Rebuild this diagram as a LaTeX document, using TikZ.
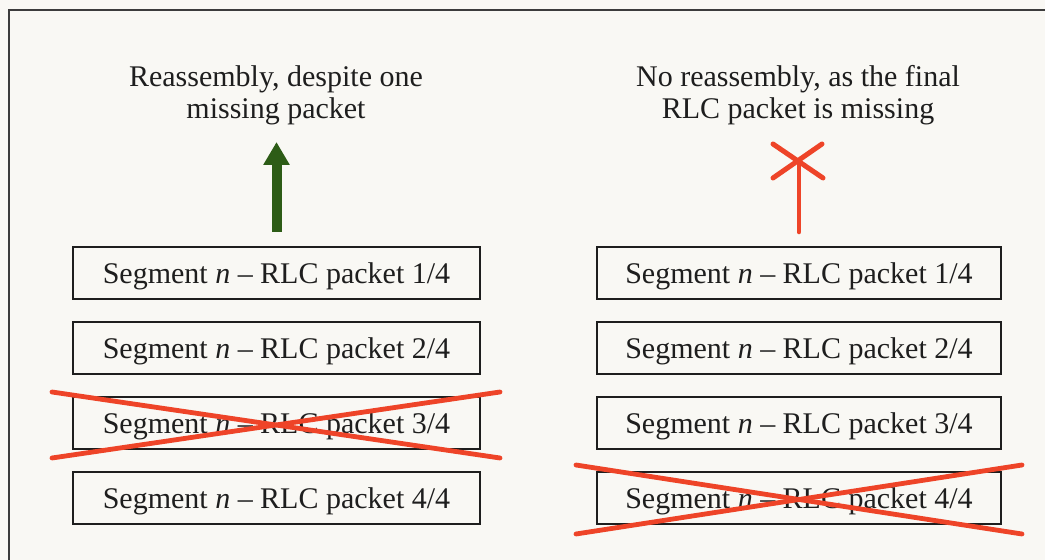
\documentclass[tikz,border=0pt]{standalone}
\usepackage{fontspec}
\setmainfont{Liberation Serif}
\usetikzlibrary{arrows.meta,calc}
\definecolor{bg}{RGB}{249,248,244}
\definecolor{ink}{RGB}{30,30,30}
\definecolor{frame}{RGB}{60,60,60}
\definecolor{lossred}{RGB}{238,68,40}
\definecolor{okgreen}{RGB}{45,92,22}
\tikzset{
  pkt/.style={draw=ink, line width=1pt, fill=bg, inner sep=0pt,
    minimum height=26pt, text height=10.5pt, text depth=0pt,
    font=\fontsize{15}{16}\selectfont, text=ink},
  pktL/.style={pkt, minimum width=203.5pt},
  pktR/.style={pkt, minimum width=202pt},
  caption/.style={align=center, font=\fontsize{15}{16}\selectfont, text=ink, inner sep=0pt},
  strike/.style={draw=lossred, line width=2.4pt, line cap=round},
}
\begin{document}
\begin{tikzpicture}[x=0.5pt,y=-0.5pt]
  % canvas and outer frame (open to the right and bottom)
  \fill[bg] (0,0) rectangle (1045,560);
  \useasboundingbox (0,0) rectangle (1045,560);
  \draw[frame, line width=1pt] (1050,10) -- (9,10) -- (9,570);

  % left column: segment reassembled
  \node[caption, anchor=base] (tl) at (276,119) {Reassembly, despite one\\missing packet};
  \node[pktL] (L1) at (276.5,273) {Segment \textit{n} – RLC packet 1/4};
  \node[pktL] (L2) at (276.5,348) {Segment \textit{n} – RLC packet 2/4};
  \node[pktL] (L3) at (276.5,423) {Segment \textit{n} – RLC packet 3/4};
  \node[pktL] (L4) at (276.5,498) {Segment \textit{n} – RLC packet 4/4};

  % right column: final packet lost
  \node[caption, anchor=base] (tr) at (798,119) {No reassembly, as the final\\RLC packet is missing};
  \node[pktR] (R1) at (799,273) {Segment \textit{n} – RLC packet 1/4};
  \node[pktR] (R2) at (799,348) {Segment \textit{n} – RLC packet 2/4};
  \node[pktR] (R3) at (799,423) {Segment \textit{n} – RLC packet 3/4};
  \node[pktR] (R4) at (799,498) {Segment \textit{n} – RLC packet 4/4};

  % successful delivery arrow
  \coordinate (gs) at ($(L1.north)+(0,-14)$);
  \coordinate (ge) at ($(L1.north)+(0,-104)$);
  \draw[okgreen, line width=5pt, -{Triangle[length=11.5pt,width=12.5pt]}] (gs) -- (ge);

  % blocked delivery: stem ending in a cross
  \coordinate (rs) at ($(R1.north)+(0,-14)$);
  \coordinate (rx) at ($(R1.north)+(-1,-85)$);
  \draw[lossred, line width=2.3pt, line cap=round] (rs) -- ($(R1.north)+(0,-82)$);
  \draw[lossred, line width=2.5pt, line cap=round]
    ($(rx)+(-25,-17)$) -- ($(rx)+(25,17)$)
    ($(rx)+(24,-17)$) -- ($(rx)+(-25,17)$);

  % lost packets crossed out
  \draw[strike] ($(L3.north west)+(-20,-4)$) -- ($(L3.south east)+(19,8)$);
  \draw[strike] ($(L3.south west)+(-20,8)$) -- ($(L3.north east)+(19,-4)$);
  \draw[strike] ($(R4.north west)+(-20,-6)$) -- ($(R4.south east)+(20,9)$);
  \draw[strike] ($(R4.south west)+(-20,9)$) -- ($(R4.north east)+(20,-6)$);
\end{tikzpicture}
\end{document}
